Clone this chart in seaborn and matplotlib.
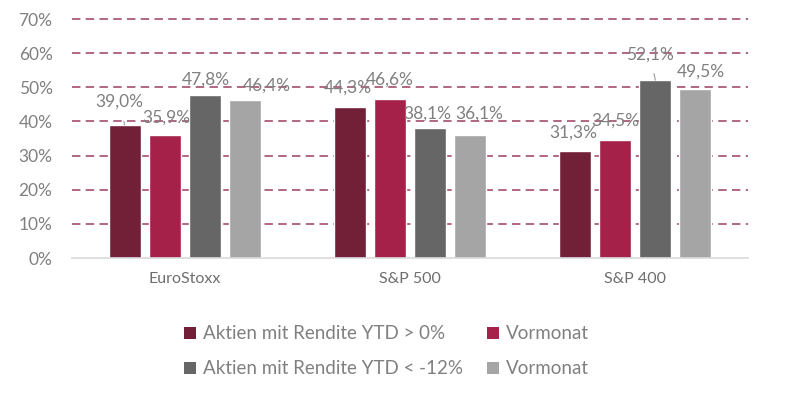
import matplotlib
matplotlib.use("Agg")
import matplotlib.pyplot as plt
from matplotlib.patches import Patch
import pandas as pd
import seaborn as sns

# data
categories = ["EuroStoxx", "S&P 500", "S&P 400"]
series = ["Aktien mit Rendite YTD > 0%", "Vormonat (> 0%)",
          "Aktien mit Rendite YTD < -12%", "Vormonat (< -12%)"]
legend_labels = ["Aktien mit Rendite YTD > 0%", "Vormonat",
                 "Aktien mit Rendite YTD < -12%", "Vormonat"]
pos_ytd = [39.0, 44.3, 31.3]
pos_prev = [35.9, 46.6, 34.5]
neg_ytd = [47.8, 38.1, 52.1]
neg_prev = [46.4, 36.1, 49.5]
yticks = [0, 10, 20, 30, 40, 50, 60, 70]

colors = ["#722038", "#A5214A", "#666666", "#A5A5A5"]
text_grey = "#808080"

rows = []
for s, vals in zip(series, [pos_ytd, pos_prev, neg_ytd, neg_prev]):
    for c, v in zip(categories, vals):
        rows.append({"cat": c, "series": s, "val": v / 100})
df = pd.DataFrame(rows)

sns.set_style("white")
plt.rcParams["font.family"] = ["Lato", "DejaVu Sans"]

fig = plt.figure(figsize=(7.86, 3.97), dpi=100)
ax = fig.add_axes([0.0916, 0.35, 0.86, 0.602])

for y in yticks[1:]:
    ax.axhline(y / 100, color="#9B3D60", lw=1.1, ls=(0, (5.5, 3.5)), zorder=0, clip_on=False)

sns.barplot(data=df, x="cat", y="val", hue="series", order=categories,
            hue_order=series, palette=colors, width=0.71, gap=0.2,
            saturation=1, errorbar=None, legend=False, ax=ax, zorder=2)

ax.set_ylim(0, 0.70)
ax.set_xlim(-0.5, 2.5)
ax.set_yticks([y / 100 for y in yticks])
ax.set_yticklabels([f"{y}%" for y in yticks], color=text_grey, fontsize=12.5)
ax.tick_params(axis="y", length=0, pad=14)
ax.tick_params(axis="x", length=0, pad=10, labelsize=11.5, labelcolor="#6E6E6E")
ax.set_xlabel("")
ax.set_ylabel("")
for s in ["top", "right", "left"]:
    ax.spines[s].set_visible(False)
ax.spines["bottom"].set_color("#D9D9D9")
ax.spines["bottom"].set_linewidth(1.2)

# data label offsets (pixels) as placed in the reference
offsets = [
    [(-5, 23), (2, 18), (1, 15), (22, 14)],
    [(-2, 19), (0, 19), (-3, 14), (9, 21)],
    [(-2, 19), (0, 20), (-5, 26), (6, 17)],
]
leaders = {(0, 0), (2, 2)}

bars = ax.patches
for si in range(len(series)):
    for ci in range(len(categories)):
        b = bars[si * len(categories) + ci]
        x = b.get_x() + b.get_width() / 2
        h = b.get_height()
        dx, dy = offsets[ci][si]
        label = f"{h * 100:.1f}".replace(".", ",") + "%"
        arrow = None
        if (ci, si) in leaders:
            arrow = dict(arrowstyle="-", color="#A6A6A6", lw=0.9, shrinkA=6, shrinkB=0)
        ax.annotate(label, xy=(x, h), xytext=(dx, dy), textcoords="offset pixels",
                    ha="center", va="center", fontsize=12.5, color=text_grey,
                    arrowprops=arrow, zorder=3)

handles = [Patch(facecolor=c, edgecolor="none") for c in colors]
order = [0, 2, 1, 3]
fig.legend([handles[i] for i in order], [legend_labels[i] for i in order],
           loc="center", bbox_to_anchor=(0.492, 0.115), ncol=2, frameon=False,
           fontsize=13.5, labelcolor=text_grey, handlelength=0.6, handleheight=0.6,
           handletextpad=0.4, columnspacing=1.3, labelspacing=0.95)

fig.savefig("out.png", dpi=100)
